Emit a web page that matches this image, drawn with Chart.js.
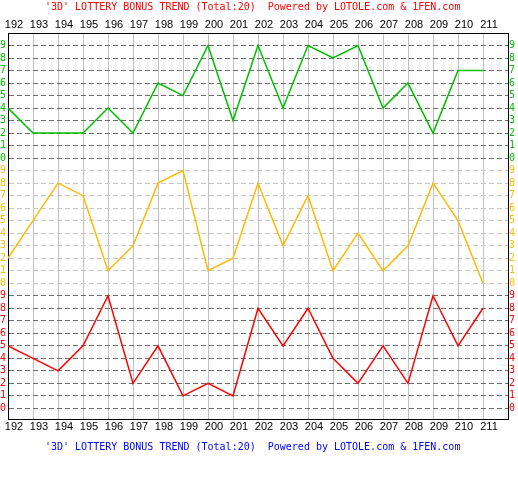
<!DOCTYPE html>
<html>
<head>
<meta charset="utf-8">
<script src="https://cdn.jsdelivr.net/npm/chart.js@4/dist/chart.umd.min.js"></script>
<style>
  html, body { margin: 0; padding: 0; background: #fff; }
  #wrap { width: 518px; height: 500px; }
</style>
</head>
<body>
<div id="wrap"><canvas id="trend" width="518" height="500"></canvas></div>
<script>
// draw periods 192..211
const periods = ['192','193','194','195','196','197','198','199','200','201',
                 '202','203','204','205','206','207','208','209','210','211'];
// bonus digits, one band each
const greenDigits  = [4,2,2,2,4,2,6,5,9,3,9,4,9,8,9,4,6,2,7,7];
const orangeDigits = [2,5,8,7,1,3,8,9,1,2,8,3,7,1,4,1,3,8,5,0];
const redDigits    = [5,4,3,5,9,2,5,1,2,1,8,5,8,4,2,5,2,9,5,8];
const digitTicks   = [0,1,2,3,4,5,6,7,8,9];

const titleText = "'3D' LOTTERY BONUS TREND (Total:20)  Powered by LOTOLE.com & 1FEN.com";

const GREEN = '#00c000', ORANGE = '#ffbb00', RED = '#ff0000';
// each band sits 10 steps above the previous one
const bands = [
    { digits: redDigits,    offset: 0,  color: RED },
    { digits: orangeDigits, offset: 10, color: ORANGE },
    { digits: greenDigits,  offset: 20, color: GREEN }
];

function bandOf(v) {
    if (v >= 20) return bands[2];
    if (v >= 10) return bands[1];
    return bands[0];
}

const yTicks = [];
bands.forEach(b => digitTicks.forEach(d => yTicks.push(b.offset + d)));

const monoFont = { family: '"DejaVu Sans Mono", monospace', size: 10 };
const labelFont = { family: '"Liberation Sans", Arial, sans-serif', size: 11 };

function fixSize(w, h) {
    return (scale) => {
        if (w !== null) scale.width = w;
        if (h !== null) scale.height = h;
        scale.paddingLeft = scale.paddingRight = scale.paddingTop = scale.paddingBottom = 0;
    };
}

function setXTicks(scale) {
    scale.ticks = periods.map((p, i) => ({ value: i }));
}
function setYTicks(scale) {
    scale.ticks = yTicks.map(v => ({ value: v }));
}

const yLabel = (v) => String(v - bandOf(v).offset);
const yColor = (ctx) => ctx.tick ? bandOf(ctx.tick.value).color : '#000';
const yGridColor = (ctx) => {
    if (!ctx.tick) return '#808080';
    return bandOf(ctx.tick.value) === bands[1] ? '#c8c8c8' : '#6e6e6e';
};
const yDash = (ctx) => ctx.tick ? [5, 3] : [];

// title lines are drawn straight onto the canvas
const titlePlugin = {
    id: 'lottoTitles',
    afterDraw(chart) {
        const c = chart.ctx;
        c.save();
        c.font = '10px "DejaVu Sans Mono", monospace';
        c.textBaseline = 'middle';
        c.textAlign = 'left';
        c.fillStyle = '#ff0000';
        c.fillText(titleText, 45, 7);
        c.fillStyle = '#0000ff';
        c.fillText(titleText, 45, 447.5);
        c.restore();
    }
};

const xAxisBase = {
    type: 'linear',
    min: 0,
    max: 20,
    afterBuildTicks: setXTicks,
    ticks: {
        autoSkip: false,
        maxRotation: 0,
        color: '#000',
        font: labelFont,
        padding: 1,
        labelOffset: 6,
        callback: (v) => periods[v] ?? ''
    },
    border: { display: true, color: '#000', width: 1 },
};

new Chart(document.getElementById('trend'), {
    type: 'line',
    data: {
        datasets: bands.map(b => ({
            data: b.digits.map((d, i) => ({ x: i, y: d + b.offset })),
            borderColor: b.color,
            borderWidth: 1.5,
            pointRadius: 0,
            tension: 0,
            fill: false
        }))
    },
    options: {
        responsive: false,
        animation: false,
        devicePixelRatio: 1,
        layout: { padding: { top: 13, left: 0, right: 0, bottom: 0 } },
        plugins: { legend: { display: false }, tooltip: { enabled: false } },
        scales: {
            x: Object.assign({}, xAxisBase, {
                position: 'bottom',
                afterFit: fixSize(null, 81),
                grid: { color: '#c0c0c0', lineWidth: 1, drawTicks: false, z: -2 }
            }),
            xTop: Object.assign({}, xAxisBase, {
                position: 'top',
                afterFit: fixSize(null, 20),
                grid: { drawOnChartArea: false, drawTicks: false }
            }),
            y: {
                type: 'linear',
                position: 'left',
                min: -0.85,
                max: 30,
                afterBuildTicks: setYTicks,
                afterFit: fixSize(8, null),
                ticks: { autoSkip: false, font: monoFont, color: yColor, padding: 2, callback: yLabel },
                grid: { color: yGridColor, lineWidth: 1, drawTicks: false, borderDash: yDash, z: -1 },
                border: { display: true, color: '#000', width: 1, dash: yDash }
            },
            yRight: {
                type: 'linear',
                position: 'right',
                min: -0.85,
                max: 30,
                afterBuildTicks: setYTicks,
                afterFit: fixSize(10, null),
                ticks: { autoSkip: false, font: monoFont, color: yColor, padding: 1, callback: yLabel },
                grid: { drawOnChartArea: false, drawTicks: false },
                border: { display: true, color: '#000', width: 1 }
            }
        }
    },
    plugins: [titlePlugin]
});
</script>
</body>
</html>
